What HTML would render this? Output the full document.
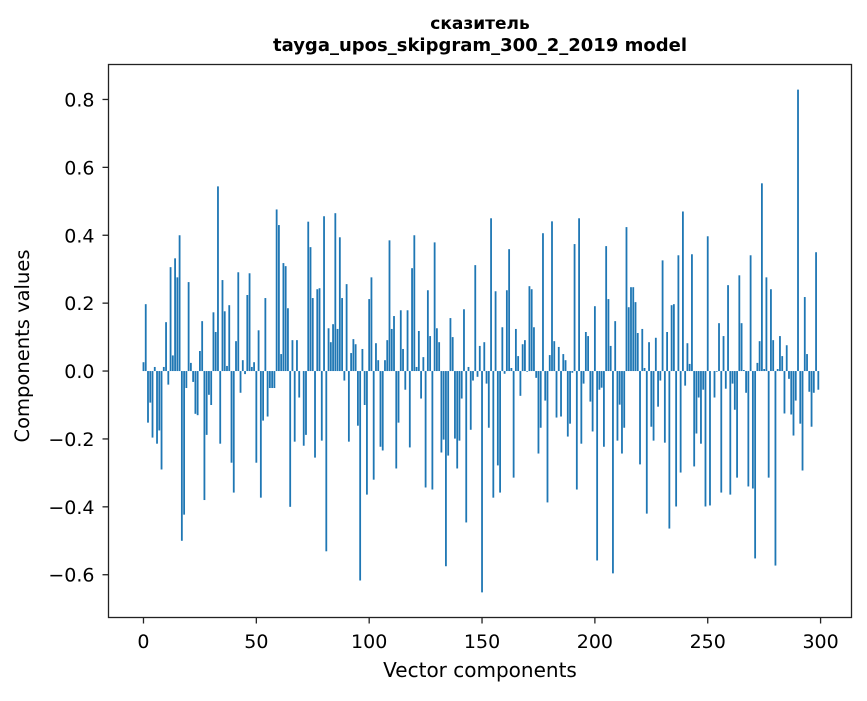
<!DOCTYPE html>
<html><head><meta charset="utf-8"><style>
body{margin:0;background:#fff;}
svg text{font-family:"DejaVu Sans","Liberation Sans",sans-serif;fill:#000;}
</style></head><body>
<svg id="chart" width="867" height="696">
<text x="480" y="29" font-size="17" font-weight="bold" text-anchor="middle">сказитель</text>
<text x="480" y="51" font-size="18" font-weight="bold" text-anchor="middle">tayga_upos_skipgram_300_2_2019 model</text>
<text transform="translate(29,346) rotate(-90)" font-size="19.5" text-anchor="middle">Components values</text>
<text x="480" y="677" font-size="20" text-anchor="middle">Vector components</text>
<g id="bars"></g>
<g id="ticks"></g>
<rect x="108.5" y="64.5" width="743" height="553" fill="none" stroke="#222" stroke-width="1.3"/>
</svg>
<script>
const values = [0.026,0.197,-0.152,-0.093,-0.196,0.012,-0.214,-0.175,-0.29,0.012,0.144,-0.04,0.306,0.046,0.332,0.276,0.40,-0.50,-0.423,-0.05,0.262,0.024,-0.032,-0.126,-0.13,0.059,0.147,-0.38,-0.188,-0.07,-0.10,0.173,0.115,0.544,-0.214,0.268,0.176,0.015,0.194,-0.27,-0.358,0.088,0.291,-0.064,0.032,-0.009,0.224,0.288,0.012,0.026,-0.27,0.12,-0.373,-0.146,0.215,-0.134,-0.05,-0.05,-0.05,0.476,0.43,0.05,0.318,0.309,0.185,-0.40,0.091,-0.208,0.091,-0.078,0,-0.22,-0.188,0.44,0.365,0.215,
-0.255,0.241,0.244,-0.205,0.456,-0.531,0.126,0.085,0.138,0.465,0.124,0.394,0.215,-0.028,0.256,-0.208,0.053,0.094,0.079,-0.161,-0.617,0.065,-0.10,-0.364,0.212,0.276,-0.32,0.082,0.032,-0.223,-0.234,0.032,0.091,0.385,0.124,0.162,-0.287,-0.152,0.179,0.065,-0.055,0.179,-0.225,0.303,0.40,0.012,0.118,-0.081,0.041,-0.343,0.238,0.103,-0.349,0.379,0.126,0.085,-0.24,-0.202,-0.575,-0.249,0.156,0.10,-0.199,-0.287,-0.205,-0.081,0.182,-0.446,0.012,-0.173,-0.028,0.312,-0.017,0.074,-0.652,
0.085,-0.037,-0.167,0.45,-0.373,0.235,-0.278,-0.358,0.129,-0.008,0.238,0.359,0.009,-0.314,0.124,0.044,-0.073,0.079,0.091,-0.002,0.25,0.241,0.129,-0.02,-0.243,-0.167,0.406,-0.087,-0.387,0.047,0.441,0.088,-0.137,0.071,-0.134,0.05,0.032,-0.193,-0.155,-0.005,0.374,-0.349,0.45,-0.214,-0.037,0.115,0.103,-0.09,-0.178,0.191,-0.558,-0.055,-0.049,-0.223,0.368,0.212,0.074,-0.596,0.147,-0.205,-0.099,-0.243,-0.167,0.424,0.188,0.247,0.247,0.203,0.112,-0.275,0.124,0.009,-0.42,
0.085,-0.164,-0.205,0.098,-0.105,-0.028,0.326,-0.211,0.115,-0.464,0.194,0.197,-0.399,0.341,-0.299,0.47,-0.043,0.082,0.021,0.344,-0.281,-0.184,-0.078,-0.214,-0.055,-0.399,0.397,-0.396,0,-0.078,-0.002,0.141,-0.358,0.103,-0.052,0.253,-0.364,-0.037,-0.114,-0.314,0.282,0.141,0.003,-0.064,-0.34,0.341,-0.346,-0.552,0.024,0.088,0.553,0.006,0.276,-0.314,0.241,0.091,-0.573,0.006,0.103,0.044,-0.125,0.076,-0.023,-0.128,-0.19,-0.087,0.829,-0.155,-0.293,0.218,0.05,-0.061,-0.164,-0.064,0.35,-0.055];
const xTicks = [0,50,100,150,200,250,300];
const yTicks = [-0.6,-0.4,-0.2,0.0,0.2,0.4,0.6,0.8];
const X0=108.5,X1=851.5,XMIN=-15.5,XMAX=313.7;
const Y0=617.5,Y1=64.5,YMIN=-0.726,YMAX=0.903;
function xs(v){return X0+(v-XMIN)/(XMAX-XMIN)*(X1-X0);}
function ys(v){return Y0-(v-YMIN)/(YMAX-YMIN)*(Y0-Y1);}
const NS="http://www.w3.org/2000/svg";
const bars=document.getElementById('bars');
values.forEach((v,i)=>{
  const r=document.createElementNS(NS,'rect');
  const a=xs(i-0.4),b=xs(i+0.4);
  r.setAttribute('x',a);r.setAttribute('width',b-a);
  r.setAttribute('y',Math.min(ys(v),ys(0)));
  r.setAttribute('height',Math.abs(ys(v)-ys(0)));
  r.setAttribute('fill','#1f77b4');
  
  
  bars.appendChild(r);
});
const tg=document.getElementById('ticks');
xTicks.forEach(t=>{
  const l=document.createElementNS(NS,'line');
  l.setAttribute('x1',xs(t));l.setAttribute('x2',xs(t));l.setAttribute('y1',Y0);l.setAttribute('y2',Y0+6);
  l.setAttribute('stroke','#222');l.setAttribute('stroke-width','1.3');
  
  
  tg.appendChild(l);
  const tx=document.createElementNS(NS,'text');
  tx.setAttribute('x',xs(t));tx.setAttribute('y',648);tx.setAttribute('font-size','19');tx.setAttribute('text-anchor','middle');
  tx.textContent=t;
  
  
  tg.appendChild(tx);
});
yTicks.forEach(t=>{
  const l=document.createElementNS(NS,'line');
  l.setAttribute('x1',X0-6);l.setAttribute('x2',X0);l.setAttribute('y1',ys(t));l.setAttribute('y2',ys(t));
  l.setAttribute('stroke','#222');l.setAttribute('stroke-width','1.3');
  
  
  tg.appendChild(l);
  const tx=document.createElementNS(NS,'text');
  tx.setAttribute('x',X0-14);tx.setAttribute('y',ys(t)+7);tx.setAttribute('font-size','19');tx.setAttribute('text-anchor','end');
  tx.textContent=(t<0?'\u2212':'')+Math.abs(t).toFixed(1);
  
  
  tg.appendChild(tx);
});
</script>
</body></html>
